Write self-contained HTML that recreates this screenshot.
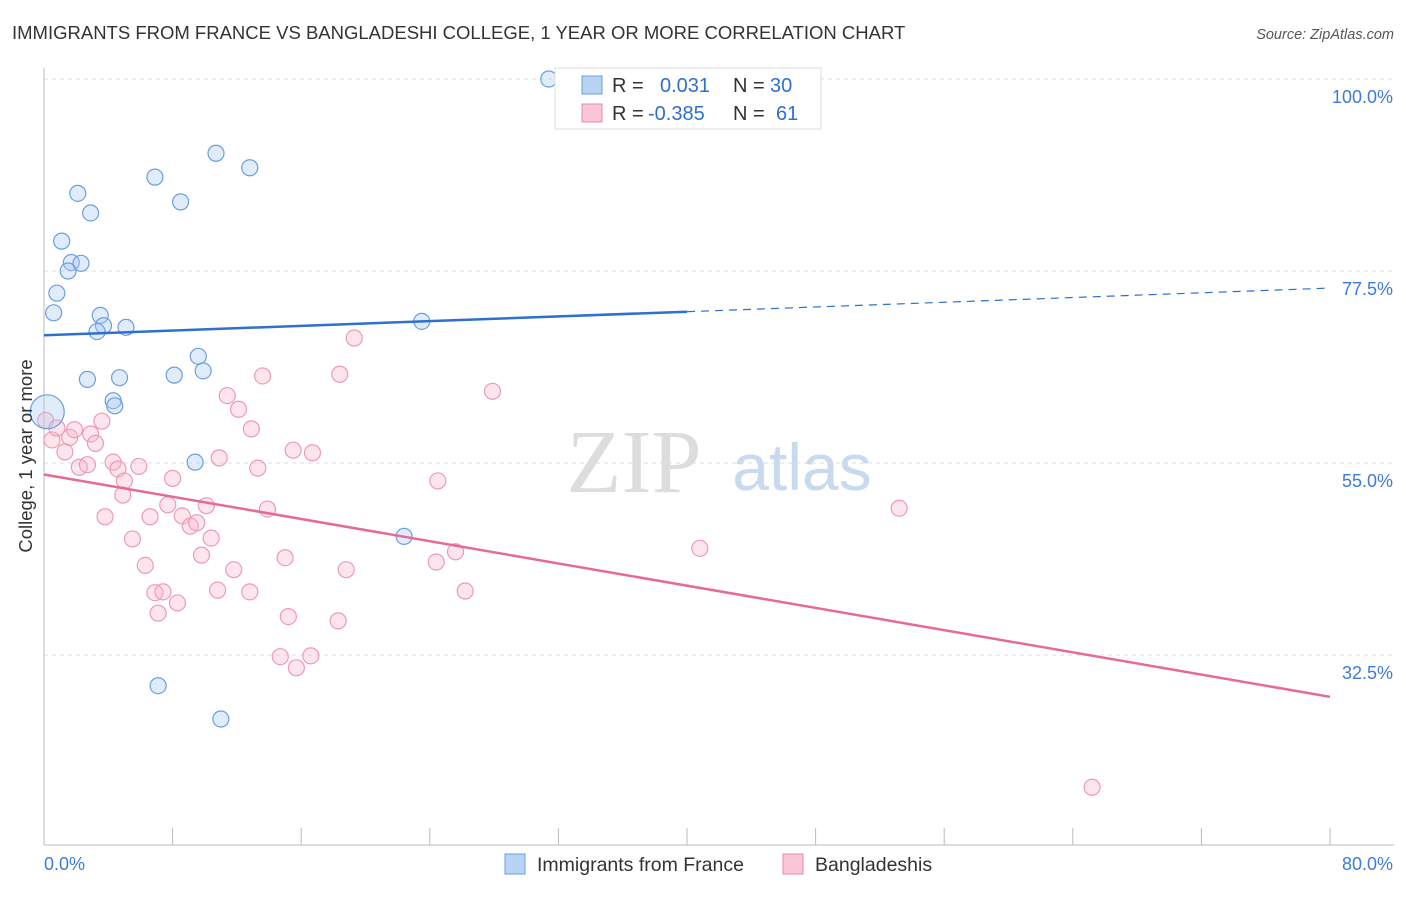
<!DOCTYPE html>
<html><head><meta charset="utf-8"><style>
body{margin:0;background:#fff;font-family:"Liberation Sans",sans-serif}
</style></head><body>
<svg width="1406" height="892" id="c" xmlns="http://www.w3.org/2000/svg">
<text x="12" y="39" font-size="18.5" fill="#333">IMMIGRANTS FROM FRANCE VS BANGLADESHI COLLEGE, 1 YEAR OR MORE CORRELATION CHART</text>
<text x="1394" y="39" font-size="14.5" fill="#555" text-anchor="end" font-style="italic">Source: ZipAtlas.com</text>
<text x="634" y="492" font-size="90" fill="#ddd" font-family="Liberation Serif" text-anchor="middle">ZIP</text>
<text x="802" y="490" font-size="66" fill="#c9d9ef" text-anchor="middle">atlas</text>
<g id="grid"></g><g id="axes"></g><g id="pts"></g><g id="trend"></g>
<text x="32" y="456" font-size="18.5" fill="#333" text-anchor="middle" transform="rotate(-90 32 456)">College, 1 year or more</text>
<g>
<rect x="555" y="68" width="266" height="61" fill="#fff" stroke="#ddd"/>
<rect x="582" y="76" width="20" height="18" fill="#b8d4f5" stroke="#6a9fe0"/>
<rect x="582" y="104" width="20" height="18" fill="#fac6d6" stroke="#e98aab"/>
<text x="612" y="92" font-size="20" fill="#333">R =</text><text x="660" y="92" font-size="20" fill="#2f6fd0">0.031</text>
<text x="733" y="92" font-size="20" fill="#333">N =</text><text x="770" y="92" font-size="20" fill="#2f6fd0">30</text>
<text x="612" y="120" font-size="20" fill="#333">R =</text><text x="648" y="120" font-size="20" fill="#2f6fd0">-0.385</text>
<text x="733" y="120" font-size="20" fill="#333">N =</text><text x="776" y="120" font-size="20" fill="#2f6fd0">61</text>
</g>
<g>
<rect x="505" y="854" width="20" height="20" fill="#b8d4f5" stroke="#6a9fe0"/>
<text x="537" y="871" font-size="19.5" fill="#333">Immigrants from France</text>
<rect x="783" y="854" width="20" height="20" fill="#fac6d6" stroke="#e98aab"/>
<text x="815" y="871" font-size="19.5" fill="#333">Bangladeshis</text>
</g>
</svg>
<script>
const yTicks=[100,77.5,55,32.5];
const xTickLabels=["0.0%","80.0%"];
const blueX=[31.4,10.7,12.8,6.9,2.1,8.5,2.9,1.1,1.7,2.3,1.5,0.8,0.6,3.5,3.7,3.3,5.1,23.5,9.6,8.1,9.9,2.7,4.7,4.3,4.4,9.4,22.4,7.1,11.0,0.2];
const blueY=[100,91.3,89.6,88.5,86.6,85.6,84.3,81.0,78.5,78.4,77.5,74.9,72.6,72.3,71.1,70.4,70.9,71.6,67.5,65.3,65.8,64.8,65.0,62.3,61.7,55.1,46.4,28.9,25.0,61.0];
const pinkX=[0.1,0.5,0.8,1.3,1.6,1.9,2.9,3.2,3.6,2.2,2.7,4.3,4.6,5.9,5.0,4.9,3.8,5.5,6.3,6.6,6.9,7.1,7.4,8.0,8.3,7.7,8.6,9.1,9.5,10.1,10.4,9.8,10.8,10.9,11.4,12.1,12.9,13.6,11.8,13.3,12.8,13.9,15.0,15.2,14.7,15.7,16.6,15.5,16.7,18.4,19.3,18.3,18.8,24.5,24.4,25.6,26.2,27.9,40.8,53.2,65.2];
const pinkY=[60.0,57.7,59.1,56.3,58.0,58.9,58.4,57.3,59.9,54.5,54.8,55.1,54.3,54.6,52.9,51.25,48.7,46.1,43.0,48.7,39.8,37.4,39.9,53.2,38.6,50.1,48.8,47.6,48.0,50.0,46.2,44.2,40.1,55.6,62.9,61.3,59.0,65.2,42.5,54.4,39.9,49.6,43.9,37.0,32.3,31.0,32.4,56.5,56.2,65.4,69.65,36.5,42.5,52.9,43.4,44.6,40.0,63.4,45.0,49.7,17.0];
const x0=44,x1=1330,y100=79,pxPer=192/22.5;
const sx=v=>x0+v/80*(x1-x0), sy=v=>y100+(100-v)*pxPer;
const NS="http://www.w3.org/2000/svg";
function mk(t,a,p){const e=document.createElementNS(NS,t);for(const k in a)e.setAttribute(k,a[k]);p.appendChild(e);return e;}
const grid=document.getElementById('grid'),axes=document.getElementById('axes'),pts=document.getElementById('pts'),tr=document.getElementById('trend');
yTicks.forEach(v=>{const l=mk('line',{x1:44,x2:1394,y1:sy(v),y2:sy(v),stroke:'#ddd','stroke-dasharray':'4,4'},grid);


const t=mk('text',{x:1393,y:sy(v)+24,'font-size':18,fill:'#3d7bd9','text-anchor':'end'},grid);t.textContent=v.toFixed(1)+'%';

});
const ax=mk('line',{x1:44,x2:1394,y1:845,y2:845,stroke:'#bbb'},axes);


const ay=mk('line',{x1:44,x2:44,y1:68,y2:845,stroke:'#bbb'},axes);


for(let i=0;i<=10;i++){const tk=mk('line',{x1:sx(i*8),x2:sx(i*8),y1:828,y2:845,stroke:'#bbb'},axes);

}
const t0=mk('text',{x:44,y:870,'font-size':18,fill:'#3d7bd9'},axes);t0.textContent=xTickLabels[0];


const t1=mk('text',{x:1393,y:870,'font-size':18,fill:'#3d7bd9','text-anchor':'end'},axes);t1.textContent=xTickLabels[1];


pinkX.forEach((x,i)=>{const c=mk('circle',{cx:sx(x),cy:sy(pinkY[i]),r:8,fill:'rgba(248,180,200,0.35)',stroke:'#ee9ab5','stroke-width':1.2},pts);

});
blueX.forEach((x,i)=>{const c=mk('circle',{cx:sx(x),cy:sy(blueY[i]),r:i==29?17:8,fill:'rgba(170,200,240,0.35)',stroke:'#6a9fe0','stroke-width':1.2},pts);

});
function fit(X,Y){const n=X.length,mx=X.reduce((a,b)=>a+b)/n,my=Y.reduce((a,b)=>a+b)/n;let sxy=0,sxx=0;X.forEach((x,i)=>{sxy+=(x-mx)*(Y[i]-my);sxx+=(x-mx)**2});const b=sxy/sxx;return [my-b*mx,b];}
const [ba,bb]=fit(blueX,blueY),[pa,pb]=fit(pinkX,pinkY);
const l1=mk('line',{x1:sx(0),y1:sy(ba),x2:sx(40),y2:sy(ba+bb*40),stroke:'#2f6fd0','stroke-width':2.5},tr);


const l2=mk('line',{x1:sx(40),y1:sy(ba+bb*40),x2:sx(80),y2:sy(ba+bb*80),stroke:'#2f6fd0','stroke-width':1.2,'stroke-dasharray':'8,6'},tr);


const l3=mk('line',{x1:sx(0),y1:sy(pa),x2:sx(80),y2:sy(pa+pb*80),stroke:'#e56a97','stroke-width':2.5},tr);


</script>
</body></html>
